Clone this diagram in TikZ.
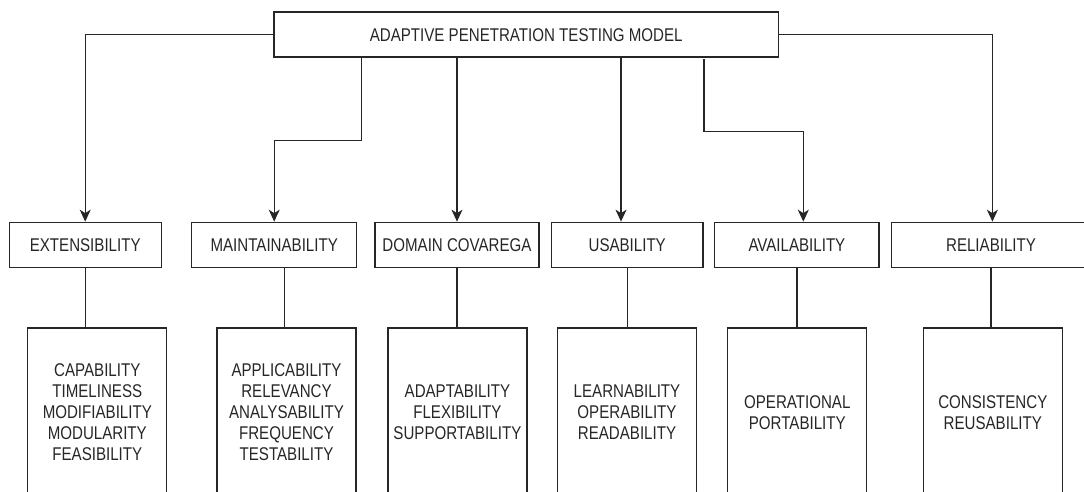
\documentclass[tikz,border=0pt]{standalone}
\usepackage{fontspec}
\setmainfont{Liberation Sans}
\usetikzlibrary{arrows.meta}
\newcommand{\tallbox}[1]{\raisebox{-2.5pt}[\height][\depth]{\scalebox{1}[1.22]{\begin{tabular}{@{}c@{}}#1\end{tabular}}}}

\begin{document}
\begin{tikzpicture}[x=1pt, y=-1pt,
    box/.style={draw=black!85, line width=1.2pt, inner sep=0pt, text=black!85,
        font=\fontsize{15.1}{17.1}\selectfont},
    model/.style={box, minimum width=504.5pt, minimum height=45pt},
    cat/.style={box, minimum height=45.5pt},
    sub/.style={box, minimum width=139pt, minimum height=168pt},
    arr/.style={draw=black!85, line width=1.2pt, -{Stealth[length=12pt, width=11pt, inset=3.5pt]}},
    ln/.style={draw=black!85, line width=1.2pt}]
	\useasboundingbox (0,0) rectangle (1084,492);
	\clip (0,0) rectangle (1084,492);

	% top
	\node[model] (model) at (526.2,34.5) {\tallbox{ADAPTIVE PENETRATION TESTING MODEL}};

	% categories
	\node[cat, minimum width=151.8pt] (ext) at (85.2,245) {\tallbox{EXTENSIBILITY}};
	\node[cat, minimum width=164.7pt] (main) at (274.2,245) {\tallbox{MAINTAINABILITY}};
	\node[cat, minimum width=164pt] (dom) at (457,245) {\tallbox{DOMAIN COVAREGA}};
	\node[cat, minimum width=151.7pt] (usa) at (627.2,245) {\tallbox{USABILITY}};
	\node[cat, minimum width=164.2pt] (ava) at (796.9,245) {\tallbox{AVAILABILITY}};
	\node[cat, minimum width=198.4pt] (rel) at (991,245) {\tallbox{RELIABILITY}};

	% sub-characteristics
	\node[sub] (extsub) at (97.3,412) {\tallbox{CAPABILITY\\TIMELINESS\\MODIFIABILITY\\MODULARITY\\FEASIBILITY}};
	\node[sub] (mainsub) at (286.5,412) {\tallbox{APPLICABILITY\\RELEVANCY\\ANALYSABILITY\\FREQUENCY\\TESTABILITY}};
	\node[sub] (domsub) at (457.4,412) {\tallbox{ADAPTABILITY\\FLEXIBILITY\\SUPPORTABILITY}};
	\node[sub] (usasub) at (627,412) {\tallbox{LEARNABILITY\\OPERABILITY\\READABILITY}};
	\node[sub] (avasub) at (797.3,412) {\tallbox{OPERATIONAL\\PORTABILITY}};
	\node[sub] (relsub) at (992.8,412) {\tallbox{CONSISTENCY\\REUSABILITY}};

	\coordinate (tusa) at (621,57);
	\coordinate (tava) at (704,59.3);

	% arrows from the model
	\draw[arr] (model.west) -| (ext.north);
	\draw[arr] ([xshift=-164.7pt]model.south) -- ++(0,83) -| (main.north);
	\draw[arr] (dom.north |- model.south) -- (dom.north);
	\draw[arr] (tusa) -- (tusa |- usa.north);
	\draw[arr] (tava) -- ++(0,72.4) -| ([xshift=6.4pt]ava.north);
	\draw[arr] (model.east) -| ([xshift=1.4pt]rel.north);

	% lines to the sub boxes
	\draw[ln] (ext.south) -- (ext.south |- extsub.north);
	\draw[ln] ([xshift=10pt]main.south) -- ++(0,60.5);
	\draw[ln] (dom.south) -- (dom.south |- domsub.north);
	\draw[ln] (usa.south) -- (usa.south |- usasub.north);
	\draw[ln] (ava.south) -- (ava.south |- avasub.north);
	\draw[ln] (rel.south) -- (rel.south |- relsub.north);
\end{tikzpicture}
\end{document}
